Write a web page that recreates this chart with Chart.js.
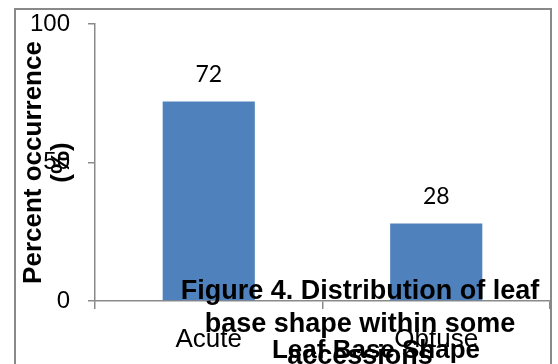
<!DOCTYPE html>
<html>
<head>
<meta charset="utf-8">
<script src="https://cdn.jsdelivr.net/npm/chart.js@4/dist/chart.umd.min.js"></script>
<style>
    html, body { margin: 0; padding: 0; background: #fff; overflow: hidden; }
    #wrap { position: relative; width: 558px; height: 364px; }
</style>
</head>
<body>
<div id="wrap"><canvas id="chart"></canvas></div>
<script>
const categories = ['Acute', 'Obtuse'];
const occurrence = [72, 28];
const yTicks = [0, 50, 100];
const yTitle = ['Percent occurrence', '(%)'];
const xTitle = 'Leaf Base Shape';
const figureTitle = ['Figure 4. Distribution of leaf', 'base shape within some', 'accessions'];

const axisColor = '#8a8a8a';

// outer frame like the office chart area
const chartFrame = {
    id: 'chartFrame',
    afterDraw(chart) {
        const c = chart.ctx;
        c.save();
        c.strokeStyle = '#898989';
        c.lineWidth = 2;
        c.strokeRect(15, 9, 536, 370);
        c.restore();
    }
};

// value labels above the bars
const valueLabels = {
    id: 'valueLabels',
    afterDatasetsDraw(chart) {
        const c = chart.ctx;
        const meta = chart.getDatasetMeta(0);
        c.save();
        c.font = '23px Lato';
        c.fillStyle = '#000';
        c.textAlign = 'center';
        c.textBaseline = 'middle';
        meta.data.forEach((bar, i) => {
            c.fillText(String(occurrence[i]), bar.x, bar.y - 27);
        });
        c.restore();
    }
};

// the floating titles overlap the axis, so they are drawn by hand
const floatingTitles = {
    id: 'floatingTitles',
    afterDraw(chart) {
        const c = chart.ctx;
        c.save();
        c.fillStyle = '#000';
        c.textAlign = 'center';
        c.textBaseline = 'middle';
        c.font = 'bold 26px "Liberation Sans"';
        c.fillText(xTitle, 376, 351);
        c.font = 'bold 27px "Liberation Sans"';
        figureTitle.forEach((line, i) => {
            c.fillText(line, 360, 292 + i * 32.5);
        });
        c.restore();
    }
};

const chart = new Chart(document.getElementById('chart'), {
    type: 'bar',
    data: {
        labels: categories,
        datasets: [{
            data: occurrence,
            backgroundColor: '#4f81bd',
            borderWidth: 0,
            barPercentage: 0.405,
            categoryPercentage: 1
        }]
    },
    options: {
        responsive: true,
        maintainAspectRatio: false,
        animation: false,
        layout: {
            padding: {left: 14, right: 8, top: 24, bottom: 0}
        },
        plugins: {
            legend: {display: false},
            tooltip: {enabled: false}
        },
        scales: {
            x: {
                offset: true,
                afterFit(scale) {
                    scale.height = 63;
                    scale.paddingLeft = 0;
                    scale.paddingRight = 0;
                },
                grid: {
                    offset: true,
                    drawOnChartArea: false,
                    tickLength: 8,
                    color: axisColor,
                    lineWidth: 1.5
                },
                border: {color: axisColor, width: 1.5},
                ticks: {
                    color: '#000',
                    padding: 15,
                    font: {family: 'Liberation Sans', size: 26}
                }
            },
            y: {
                min: 0,
                max: 100,
                afterFit(scale) {
                    scale.width = 81;
                    scale.paddingTop = 0;
                    scale.paddingBottom = 0;
                },
                afterBuildTicks(scale) {
                    scale.ticks = yTicks.map(v => ({value: v}));
                },
                grid: {
                    drawOnChartArea: false,
                    tickLength: 7,
                    color: axisColor,
                    lineWidth: 1.5
                },
                border: {color: axisColor, width: 1.5},
                ticks: {
                    color: '#000',
                    padding: 18,
                    font: {family: 'Liberation Sans', size: 24}
                },
                title: {
                    display: true,
                    text: yTitle,
                    color: '#000',
                    padding: {top: 6, bottom: 0},
                    font: {family: 'Liberation Sans', size: 26, weight: 'bold', lineHeight: '28px'}
                }
            }
        }
    },
    plugins: [chartFrame, valueLabels, floatingTitles]
});
</script>
</body>
</html>
